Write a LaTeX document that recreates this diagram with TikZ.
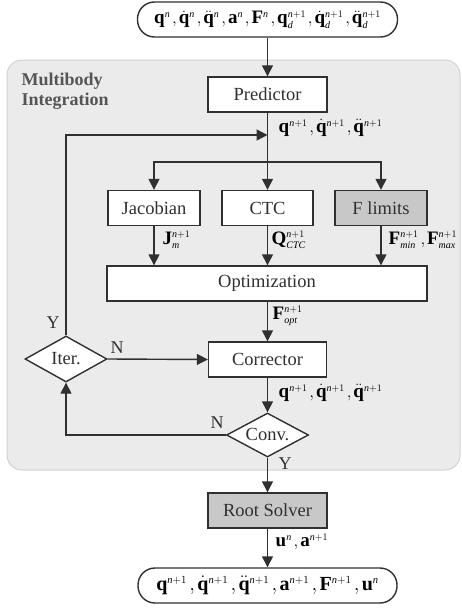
\documentclass[tikz,border=0pt]{standalone}
\usepackage{fontspec}
\setmainfont{Liberation Serif}
\usetikzlibrary{arrows.meta,shapes.geometric}
\DeclareMathSizes{19}{19}{10}{8}
\DeclareMathSizes{20}{20}{10.5}{8}
\definecolor{lc}{HTML}{303030}
\definecolor{panelfill}{HTML}{EBEBEB}
\definecolor{panelline}{HTML}{D2D2D2}
\definecolor{boxgray}{HTML}{C8C8C8}
\definecolor{titlegray}{HTML}{555555}
\newcommand{\vq}{\mathbf{q}}
\newcommand{\vqd}{\dot{\mathbf{q}}}
\newcommand{\vqdd}{\ddot{\mathbf{q}}}
\newcommand{\nplus}{\mathit{n}+1}
\newcommand{\cma}{\mkern2mu{,}\mkern2mu}
\begin{document}
\begin{tikzpicture}[x=1pt,y=-1pt,
  line width=1.4pt,
  box/.style={draw=lc, line width=1.4pt, fill=white, minimum height=35pt,
    inner sep=0pt, text=lc, font=\fontsize{18.5}{22}\selectfont},
  gbox/.style={box, fill=boxgray},
  term/.style={draw=lc, line width=1.4pt, fill=white, rounded corners=17pt,
    minimum height=35pt, minimum width=260pt, inner sep=0pt,
    font=\fontsize{20}{22}\selectfont},
  dec/.style={diamond, draw=lc, line width=1.4pt, fill=white, aspect=1.8,
    inner sep=0pt, minimum width=82pt, minimum height=46pt, text=lc,
    font=\fontsize{18.5}{22}\selectfont},
  lbl/.style={inner sep=0pt, anchor=west, font=\fontsize{19}{21}\selectfont},
  yn/.style={inner sep=0pt, text=lc, font=\fontsize{18}{20}\selectfont},
  arr/.style={draw=lc, line width=1.4pt, -{Triangle[length=11pt,width=11pt]}},
  ln/.style={draw=lc, line width=1.4pt}]
\useasboundingbox (0,0) rectangle (462,608);
% panel
\node[draw=panelline, line width=1pt, fill=panelfill, rounded corners=15pt,
  minimum width=453pt, minimum height=410pt, inner sep=0pt] (panel) at (233.5,265) {};
\node[anchor=west, align=left, inner sep=0pt, text=titlegray,
  font=\fontsize{18}{20}\selectfont\bfseries] (title) at (21,91.5) {Multibody\\Integration};
% nodes
\node[term, font=\fontsize{19}{21}\selectfont] (top) at (267.5,19.5)
  {$\vq^{\mathit{n}}\cma\vqd^{\mathit{n}}\cma\vqdd^{\mathit{n}}\cma\mathbf{a}^{\mathit{n}}\cma\mathbf{F}^{\mathit{n}}\cma\vq_{\mathit{d}}^{\nplus}\cma\vqd_{\mathit{d}}^{\nplus}\cma\vqdd_{\mathit{d}}^{\nplus}$};
\node[box, minimum width=119pt] (pred) at (267.5,94.5) {Predictor};
\node[box, minimum width=92pt] (jac) at (154,208) {Jacobian};
\node[box, minimum width=91pt] (ctc) at (267.5,208) {CTC};
\node[gbox, minimum width=92pt] (flim) at (381,208) {F limits};
\node[box, minimum width=320pt] (opt) at (267,283.5) {Optimization};
\node[box, minimum width=118pt] (corr) at (267.5,359.5) {Corrector};
\node[dec] (iter) at (66,359) {Iter.};
\node[dec, minimum height=44pt] (conv) at (267.5,435) {Conv.};
\node[gbox, minimum width=119pt] (root) at (267.5,510.5) {Root Solver};
\node[term, minimum width=259pt] (bot) at (267.5,585.5)
  {$\vq^{\nplus}\cma\vqd^{\nplus}\cma\vqdd^{\nplus}\cma\mathbf{a}^{\nplus}\cma\mathbf{F}^{\nplus}\cma\mathbf{u}^{\mathit{n}}$};
\coordinate (j1) at (267.5,135);
\coordinate (br) at (267.5,162);
% connectors
\draw[arr] (top) -- (pred);
\draw[ln] (pred) -- (br);
\draw[arr] (br) -- (ctc);
\draw[arr] (br) -| (jac);
\draw[arr] (br) -| (flim);
\draw[arr] (jac) -- (jac |- opt.north);
\draw[arr] (ctc) -- (ctc |- opt.north);
\draw[arr] (flim) -- (flim |- opt.north);
\draw[arr] (opt.south -| corr) -- (corr);
\draw[arr] (corr) -- (conv);
\draw[arr] (conv.west) -| (iter.south);
\draw[arr] (iter.east) -- (corr.west);
\draw[arr] (iter.north) |- (j1);
\draw[arr] (conv) -- (root);
\draw[arr] (root) -- (bot);
% labels
\node[lbl] (l1) at (278,128) {$\vq^{\nplus}\cma\vqd^{\nplus}\cma\vqdd^{\nplus}$};
\node[lbl] (l2) at (162,240) {$\mathbf{J}_{\mathit{m}}^{\nplus}$};
\node[lbl] (l3) at (271,240) {$\mathbf{Q}_{\mathit{CTC}}^{\nplus}$};
\node[lbl] (l4) at (388,240) {$\mathbf{F}_{\mathit{min}}^{\nplus}\cma\mathbf{F}_{\mathit{max}}^{\nplus}$};
\node[lbl] (l5) at (272,316) {$\mathbf{F}_{\mathit{opt}}^{\nplus}$};
\node[lbl] (l6) at (278,393) {$\vq^{\nplus}\cma\vqd^{\nplus}\cma\vqdd^{\nplus}$};
\node[lbl] (l7) at (275,542) {$\mathbf{u}^{\mathit{n}}\cma\mathbf{a}^{\nplus}$};
\node[yn] (n1) at (117,348) {N};
\node[yn] (y1) at (53,323) {Y};
\node[yn] (n2) at (217,423) {N};
\node[yn] (y2) at (285,464) {Y};
\end{tikzpicture}
\end{document}
